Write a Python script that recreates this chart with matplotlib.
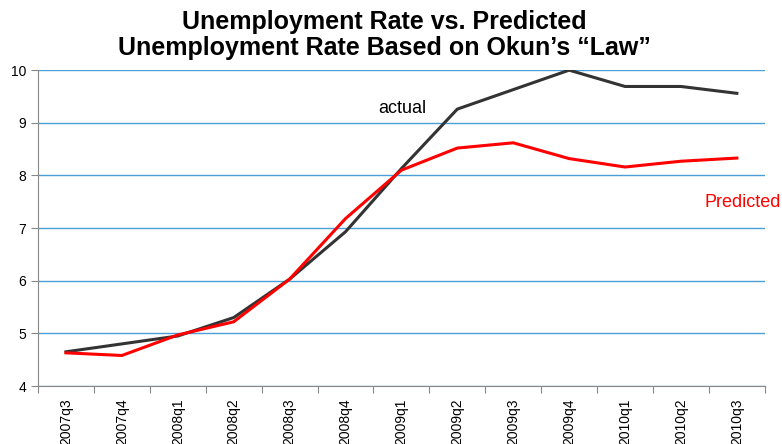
import matplotlib.pyplot as plt
import numpy as np

plt.rcParams['font.family'] = ['Liberation Sans', 'DejaVu Sans']

# quarters and rates
quarters = ['2007q3', '2007q4', '2008q1', '2008q2', '2008q3', '2008q4', '2009q1',
            '2009q2', '2009q3', '2009q4', '2010q1', '2010q2', '2010q3']
actual = [4.65, 4.8, 4.95, 5.3, 6.03, 6.93, 8.13, 9.26, 9.63, 10.0, 9.69, 9.69, 9.56]
predicted = [4.63, 4.58, 4.97, 5.22, 6.03, 7.18, 8.1, 8.52, 8.62, 8.32, 8.16, 8.27, 8.33]

fig = plt.figure(figsize=(7.82, 4.44), dpi=100)
ax = fig.add_axes([0.0486, 0.1306, 0.9294, 0.7114])

x = np.arange(len(quarters))
ax.plot(x, actual, color='#333333', lw=2.2, zorder=3)
ax.plot(x, predicted, color='#ff0000', lw=2.2, zorder=4)

ax.set_xlim(-0.5, len(quarters) - 0.5)
ax.set_ylim(4, 10)
ax.set_yticks(range(4, 11))
ax.yaxis.grid(True, color='#4a9fd8', lw=1)
ax.set_axisbelow(True)

# ticks between categories, labels at centres
ax.set_xticks(np.arange(-0.5, len(quarters)), minor=False)
ax.set_xticklabels([])
ax.set_xticks(x, minor=True)
ax.set_xticklabels(quarters, minor=True, rotation=90, fontsize=10)
ax.tick_params(axis='x', which='minor', length=0, pad=9)
ax.tick_params(axis='x', which='major', length=5, color='#888888', direction='out')
ax.tick_params(axis='y', length=5, color='#888888', labelsize=10)

for s in ['top', 'right']:
    ax.spines[s].set_visible(False)
for s in ['left', 'bottom']:
    ax.spines[s].set_color('#888888')

ax.text(5.58, 9.27, 'actual', fontsize=13, color='black', va='center')
fig.text(0.999, 1 - 202 / 444, 'Predicted', fontsize=13, color='#ff0000',
         ha='right', va='center')

fig.text(0.492, 0.978, 'Unemployment Rate vs. Predicted\nUnemployment Rate Based on Okun\u2019s \u201cLaw\u201d',
         ha='center', va='top', fontsize=18, fontweight='bold', linespacing=1.1)

plt.savefig('out.png', dpi=100)
